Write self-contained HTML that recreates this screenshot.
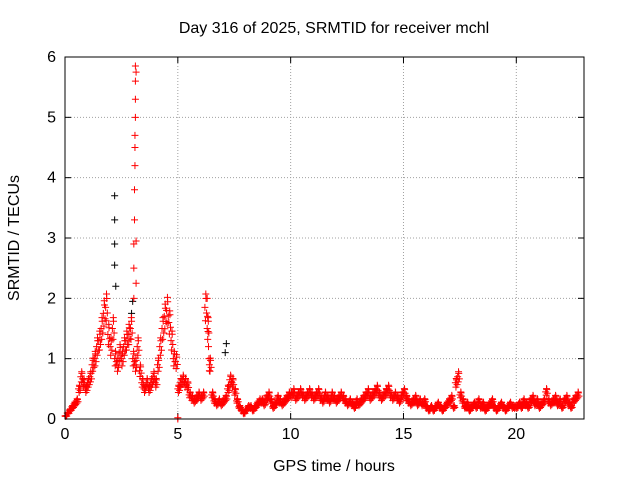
<!DOCTYPE html>
<html><head><meta charset="utf-8"><style>
html,body{margin:0;padding:0;background:#fff;}
svg text{font-family:"Liberation Sans",sans-serif;font-size:16px;fill:#000;}
</style></head><body>
<svg id="chart" width="640" height="480" xmlns="http://www.w3.org/2000/svg">
<text x="334" y="33" text-anchor="middle">Day 316 of 2025, SRMTID for receiver mchl</text>
<text x="334" y="471" text-anchor="middle">GPS time / hours</text>
<text x="19" y="238" text-anchor="middle" transform="rotate(-90 19 238)">SRMTID / TECUs</text>
<g id="grid"></g>
<g id="axes"></g>
<g id="series"></g>
<rect x="65" y="57" width="519" height="362" fill="none" stroke="#000" stroke-width="1"/>
</svg>
<script>
const xTicks=[0,5,10,15,20];
const yTicks=[0,1,2,3,4,5,6];
const step=0.1;
const baseValues=[
0.05,0.1,0.15,0.2,0.25,0.3,0.5,0.7,0.6,0.5,
0.6,0.7,0.9,1.0,1.2,1.3,1.5,1.75,1.85,1.4,
1.2,1.5,1.0,0.9,1.1,1.0,1.2,1.3,1.4,1.5,
1.0,0.9,1.2,0.8,0.6,0.5,0.6,0.5,0.6,0.7,
0.6,0.9,1.2,1.5,1.7,1.8,1.6,1.3,1.0,0.95,
0.5,0.6,0.65,0.6,0.55,0.4,0.35,0.3,0.35,0.4,
0.35,0.4,1.85,1.5,0.9,0.4,0.3,0.25,0.3,0.25,
0.3,0.35,0.5,0.65,0.6,0.45,0.3,0.2,0.15,0.1,
0.15,0.2,0.2,0.15,0.2,0.25,0.3,0.3,0.25,0.35,
0.4,0.3,0.2,0.25,0.35,0.3,0.25,0.3,0.35,0.4,
0.4,0.45,0.35,0.4,0.45,0.4,0.35,0.4,0.45,0.4,
0.35,0.4,0.45,0.35,0.3,0.4,0.35,0.3,0.4,0.35,
0.3,0.35,0.4,0.35,0.3,0.25,0.3,0.25,0.2,0.3,
0.25,0.3,0.35,0.4,0.45,0.35,0.4,0.45,0.5,0.4,
0.35,0.4,0.45,0.5,0.4,0.35,0.4,0.35,0.3,0.4,
0.45,0.35,0.3,0.25,0.3,0.35,0.25,0.3,0.25,0.3,
0.2,0.15,0.2,0.15,0.2,0.25,0.2,0.15,0.2,0.25,
0.3,0.35,0.2,0.6,0.7,0.4,0.3,0.2,0.25,0.15,
0.2,0.25,0.2,0.3,0.2,0.25,0.15,0.2,0.25,0.3,
0.2,0.15,0.2,0.25,0.2,0.15,0.2,0.25,0.2,0.2,
0.2,0.25,0.2,0.3,0.25,0.2,0.3,0.35,0.25,0.3,
0.2,0.25,0.3,0.45,0.3,0.25,0.3,0.35,0.25,0.3,
0.2,0.3,0.35,0.25,0.2,0.3,0.35,0.4
];
const spikeT=[3.05,3.05,3.05,3.08,3.08,3.1,3.1,3.1,3.12,3.12,3.12,3.12,3.15,3.15,3.15,5.0,5.0,6.3,6.32,6.34,6.36,6.38,6.4];
const spikeV=[2.0,2.5,2.9,3.3,3.8,4.2,4.5,4.7,5.0,5.3,5.6,5.85,5.75,2.95,2.25,0.0,0.02,2.0,1.7,1.45,1.2,1.0,0.8];
const blackT=[2.2,2.2,2.2,2.2,2.95,3.0,7.1,7.15,2.25];
const blackV=[3.7,3.3,2.9,2.55,1.75,1.95,1.1,1.25,2.2];
const X0=65,X1=584,Y0=419,Y1=57,XMAX=23,YMAX=6;
const xs=v=>X0+v*(X1-X0)/XMAX, ys=v=>Y0-v*(Y0-Y1)/YMAX;
const NS="http://www.w3.org/2000/svg";
function mk(tag,attrs,parent){const e=document.createElementNS(NS,tag);for(const k in attrs)e.setAttribute(k,attrs[k]);parent.appendChild(e);return e;}
const grid=document.getElementById('grid'),axes=document.getElementById('axes'),ser=document.getElementById('series');
xTicks.forEach(t=>{const x=xs(t);
 if(t>0){const g=mk('line',{x1:x,x2:x,y1:Y1,y2:Y0,stroke:'#a0a0a0','stroke-dasharray':'1,2'},grid);}
 const l=mk('line',{x1:x,x2:x,y1:Y0,y2:Y0-6,stroke:'#000'},axes);
 const l2=mk('line',{x1:x,x2:x,y1:Y1,y2:Y1+6,stroke:'#000'},axes);
 const tx=mk('text',{x:x,y:Y0+20,'text-anchor':'middle'},axes);tx.textContent=t;});
yTicks.forEach(t=>{const y=ys(t);
 if(t>0&&t<6){const g=mk('line',{x1:X0,x2:X1,y1:y,y2:y,stroke:'#a0a0a0','stroke-dasharray':'1,2'},grid);}
 const l=mk('line',{x1:X0,x2:X0+6,y1:y,y2:y,stroke:'#000'},axes);
 const l2=mk('line',{x1:X1,x2:X1-6,y1:y,y2:y,stroke:'#000'},axes);
 const tx=mk('text',{x:X0-9,y:y+5,'text-anchor':'end'},axes);tx.textContent=t;});
function plus(t,v,c){const x=xs(t),y=ys(v);
 const p=mk('path',{d:`M${x-3.5},${y}h7M${x},${y-3.5}v7`,stroke:c,'stroke-width':1,fill:'none'},ser);
 
 }
blackT.forEach((t,i)=>plus(t,blackV[i],'#000'));
baseValues.forEach((v,i)=>{const t=i*step;
 plus(t,v,'#f00');plus(t+step*0.5,v*1.08,'#f00');plus(t+step*0.25,v*0.88,'#f00');plus(t+step*0.75,v*0.95,'#f00');plus(t+step*0.4,v*1.12,'#f00');});
spikeT.forEach((t,i)=>plus(t,spikeV[i],'#f00'));
</script>
</body></html>
